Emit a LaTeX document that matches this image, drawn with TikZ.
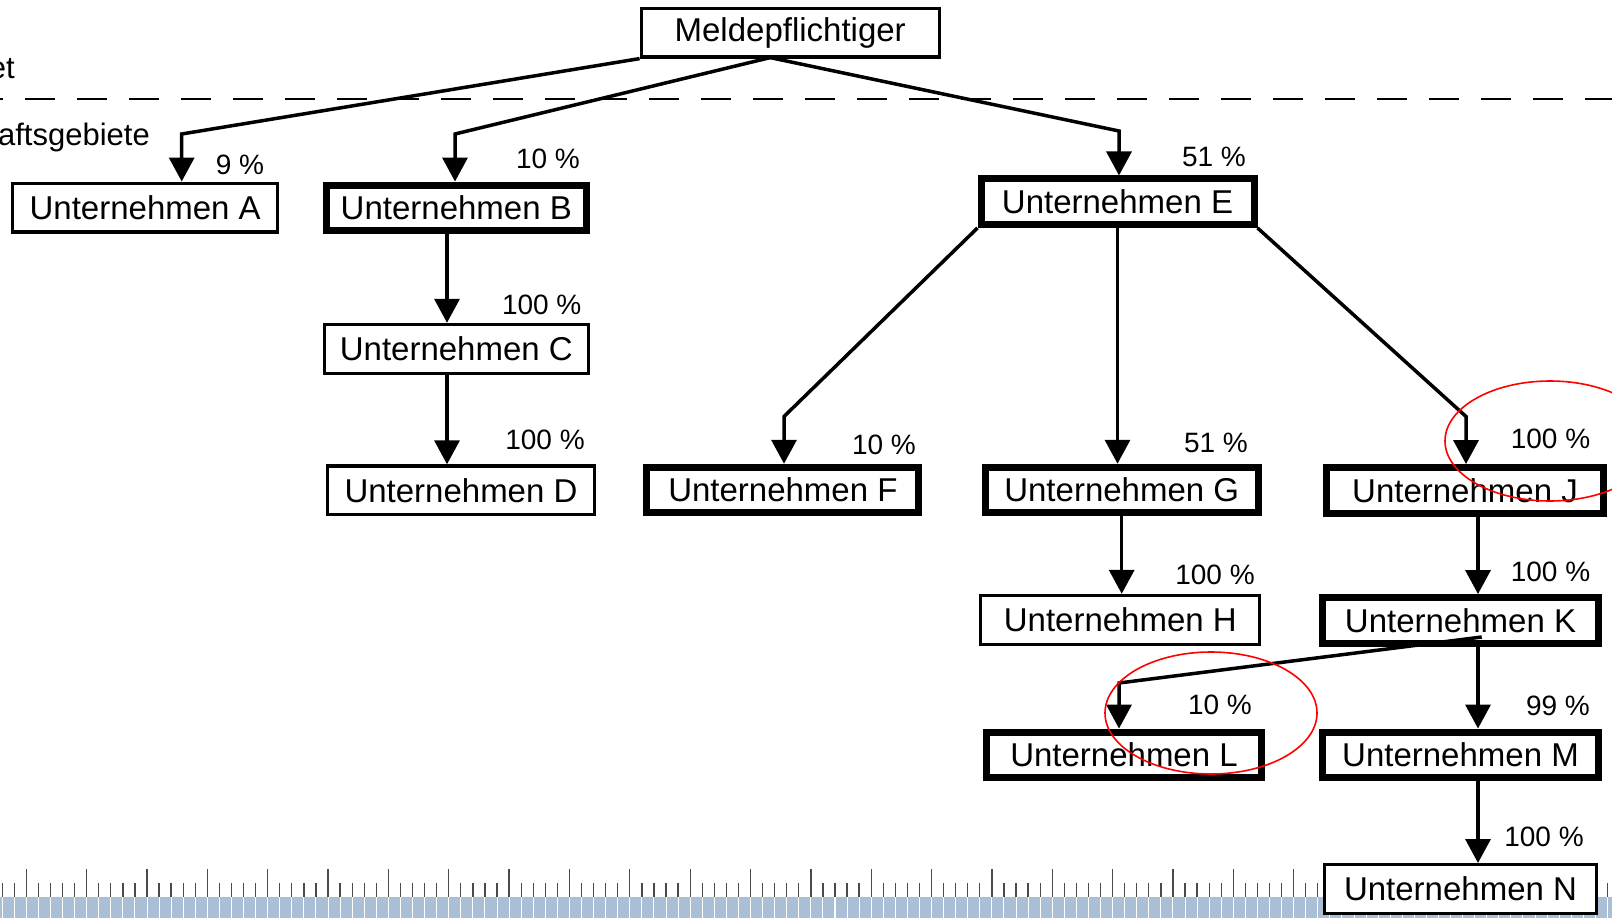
\documentclass[tikz,border=0pt]{standalone}
\usepackage{fontspec}
\setmainfont{Liberation Sans}
\usepackage{tikz}
\usetikzlibrary{
  positioning,
  calc,
  arrows.meta
}
\definecolor{rulerBlue}{HTML}{AABED5}
\definecolor{tickGray}{HTML}{4A4A4A}

\tikzset{
  firm/.style={draw, fill=white, line width=3.2pt, inner sep=0pt,
    minimum height=48.8pt, font=\fontsize{33}{40}\selectfont},
  firmBold/.style={firm, line width=7pt, minimum height=45.5pt},
  share/.style={inner sep=0pt, font=\fontsize{28}{34}\selectfont},
  link/.style={line width=3.5pt, -{Triangle[length=24pt,width=25pt]}},
  redRing/.style={red, line width=1.6pt}
}

\begin{document}
\begin{tikzpicture}[x=1pt, y=-1pt]
      \useasboundingbox (0,0) rectangle (1612,918);
      \clip (0,0) rectangle (1612,918);

      % 下端の目盛り
      \fill[rulerBlue] (0,897) rectangle (1612,918);
      \foreach \k in {-2,...,131} {
        \pgfmathsetmacro{\xk}{26.3+12.07*\k}
        \pgfmathsetmacro{\ytop}{ifthenelse(mod(\k,5)==0,869,883)}
        \draw[white, line width=1pt] (\xk,897) -- (\xk,918);
        \draw[tickGray, line width=1.3pt] (\xk,\ytop) -- (\xk,897);
      }

      % 区切りの破線
      \draw[line width=1.8pt, dash pattern=on 30pt off 22pt, dash phase=27pt] (0,99) -- (1612,99);
      \node[anchor=base east, inner sep=0pt, font=\fontsize{31}{36}\selectfont] (areaTop) at (15,78) {et};
      \node[anchor=base east, inner sep=0pt, font=\fontsize{31}{36}\selectfont] (areaBot) at (150,145) {aftsgebiete};

      % 各社の箱
      \node[firm, minimum width=298pt] (M0) at (790.2,32.6) {Meldepflichtiger};
      \node[firm, minimum width=265pt] (A) at (145.2,207.5) {Unternehmen A};
      \node[firmBold, minimum width=260pt] (B) at (456.3,207.8) {Unternehmen B};
      \node[firm, minimum width=264pt] (C) at (456.3,348.8) {Unternehmen C};
      \node[firm, minimum width=267pt] (D) at (461,490.3) {Unternehmen D};
      \node[firmBold, minimum width=273pt] (E) at (1117.5,201.7) {Unternehmen E};
      \node[firmBold, minimum width=272pt] (F) at (782.9,490) {Unternehmen F};
      \node[firmBold, minimum width=273pt] (G) at (1121.7,490) {Unternehmen G};
      \node[firm, minimum width=279pt] (H) at (1120.3,619.8) {Unternehmen H};
      \node[firmBold, minimum width=277pt] (J) at (1465,490.3) {Unternehmen J};
      \node[firmBold, minimum width=276pt] (K) at (1460.5,620.3) {Unternehmen K};
      \node[firmBold, minimum width=275pt] (L) at (1124,754.8) {Unternehmen L};
      \node[firmBold, minimum width=276pt] (M) at (1460.5,754.8) {Unternehmen M};
      \node[firm, minimum width=272pt] (N) at (1460.5,889) {Unternehmen N};

      % 折れ点と縦線の位置
      \coordinate (mStart) at ($(M0.south)+(-20,-1)$);
      \coordinate (bendA) at (181.7,134);
      \coordinate (bendB) at (455,134);
      \coordinate (bendE) at (1119,131);
      \coordinate (bendF) at (784,416.5);
      \coordinate (bendJ) at (1466,416.5);
      \coordinate (colB) at (447,300);
      \coordinate (colK) at (1478,600);
      \coordinate (kOut) at (1481.7,637);
      \coordinate (bendL) at (1119,683);

      % Meldepflichtigerから出る矢印
      \draw[link] (M0.south west) -- (bendA) -- (bendA |- A.north);
      \draw[link] (mStart) -- (bendB) -- (bendB |- B.north);
      \draw[link] (mStart) -- (bendE) -- (bendE |- E.north);

      % B-C-Dの縦の矢印
      \draw[link] (B.south -| colB) -- (C.north -| colB);
      \draw[link] (C.south -| colB) -- (D.north -| colB);

      % Eから出る矢印
      \draw[link] (E.south west) -- (bendF) -- (bendF |- F.north);
      \draw[link] (E.south) -- (E.south |- G.north);
      \draw[link] (E.south east) -- (bendJ) -- (bendJ |- J.north);
      \draw[link] (G.south) -- (G.south |- H.north);

      % J-K-M-Nの縦の矢印
      \draw[link] (J.south -| colK) -- (K.north -| colK);
      \draw[link] (K.south -| colK) -- (M.north -| colK);
      \draw[link] (M.south -| colK) -- (N.north -| colK);
      % KからLへの矢印
      \draw[link] (kOut) -- (bendL) -- (bendL |- L.north);

      % 持分の割合
      \node[share] (pA) at (240,165) {9 \%};
      \node[share] (pB) at (548,159) {10 \%};
      \node[share] (pE) at (1214,157) {51 \%};
      \node[share] (pC) at (541.7,305.3) {100 \%};
      \node[share] (pD) at (545,440) {100 \%};
      \node[share] (pF) at (884,445) {10 \%};
      \node[share] (pG) at (1216,443) {51 \%};
      \node[share] (pJ) at (1550.5,438.5) {100 \%};
      \node[share] (pH) at (1215,575) {100 \%};
      \node[share] (pK) at (1550.5,571.7) {100 \%};
      \node[share] (pL) at (1220,705) {10 \%};
      \node[share] (pM) at (1558,706) {99 \%};
      \node[share] (pN) at (1544,836.7) {100 \%};

      % 赤い楕円の印
      \draw[redRing] (1550,441) ellipse [x radius=105pt, y radius=60pt];
      \draw[redRing] (1211,713) ellipse [x radius=106pt, y radius=61pt];
\end{tikzpicture}
\end{document}
